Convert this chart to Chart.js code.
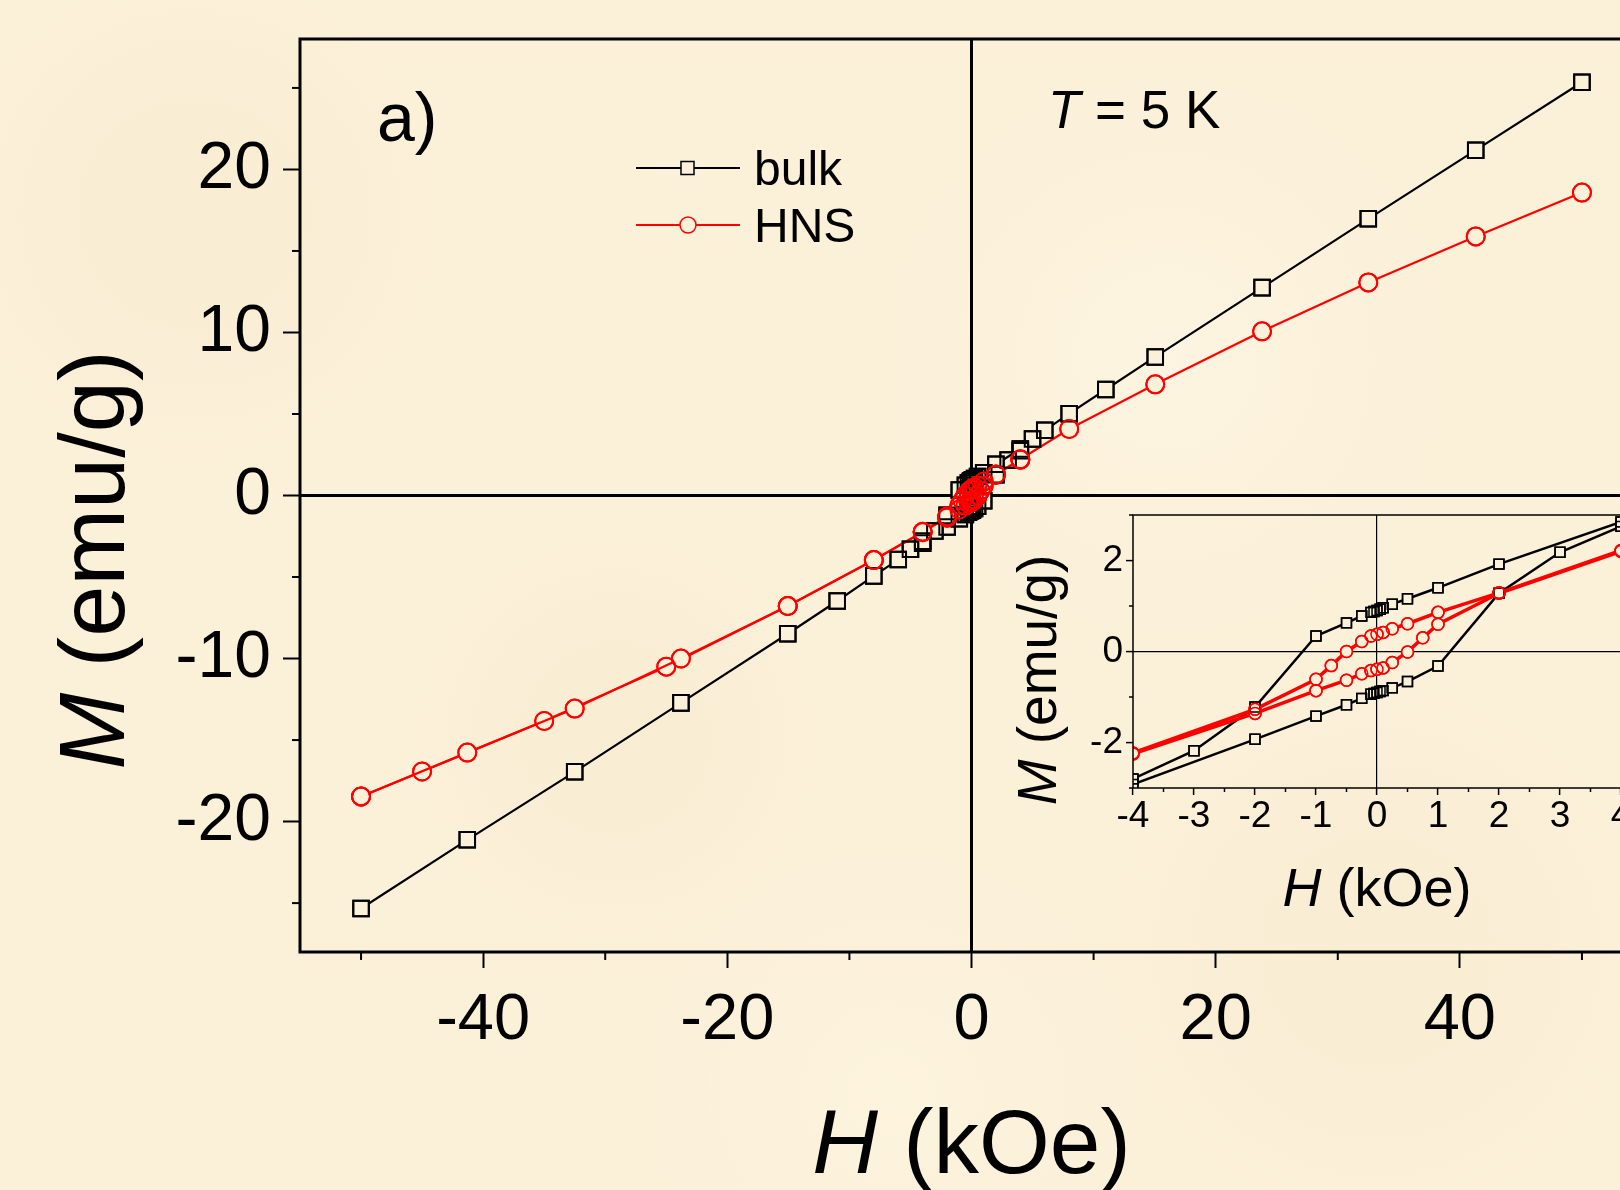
<!DOCTYPE html>
<html>
<head>
<meta charset="utf-8">
<title>M(H) bulk vs HNS</title>
<script src="https://cdn.jsdelivr.net/npm/chart.js@4.4.1/dist/chart.umd.min.js"></script>
<style>
  html, body { margin: 0; padding: 0; width: 1620px; height: 1190px; overflow: hidden; }
  body {
    position: relative;
    background-color: #fbf0d8;
    background-image:
      radial-gradient(circle at 12% 18%, rgba(242,229,196,0.3) 0, rgba(242,229,196,0) 14%),
      radial-gradient(circle at 38% 62%, rgba(242,229,196,0.3) 0, rgba(242,229,196,0) 16%),
      radial-gradient(circle at 72% 30%, rgba(255,249,234,0.5) 0, rgba(255,249,234,0) 20%),
      radial-gradient(circle at 85% 80%, rgba(241,227,194,0.25) 0, rgba(241,227,194,0) 16%),
      radial-gradient(circle at 55% 92%, rgba(255,248,230,0.45) 0, rgba(255,248,230,0) 18%);
  }
  #mainChart { position: absolute; left: 0; top: 0; }
  #insetChart { position: absolute; left: 990px; top: 500px; }
</style>
</head>
<body>
<canvas id="mainChart" width="1700" height="1190"></canvas>
<canvas id="insetChart" width="680" height="440"></canvas>
<script>
const BG = '#fbf0d8';
const FONT = "'Liberation Sans', Arial, Helvetica, sans-serif";

// bulk, field swept down (+50 -> -50 kOe)
const bulkDownH = [50, 41.3, 32.5, 23.8, 15.05, 11, 8, 6, 5, 4, 2, 1, 0.5, 0.25, 0.1, 0.05, 0, -0.05, -0.1, -0.25, -0.5, -1, -2, -3, -4, -5, -6, -8, -11, -15.05, -23.8, -32.5, -41.3, -50];
const bulkDownM = [25.35, 21.18, 16.97, 12.75, 8.5, 6.5, 5.02, 4.0, 3.47, 2.85, 1.92, 1.40, 1.16, 1.04, 0.96, 0.93, 0.90, 0.88, 0.86, 0.78, 0.63, 0.34, -1.22, -2.18, -2.80, -3.3, -3.93, -4.93, -6.47, -8.48, -12.72, -16.95, -21.12, -25.33];
// bulk, field swept back up (-4 -> +4 kOe)
const bulkUpH = [-4, -2, -1, -0.5, -0.25, -0.1, -0.05, 0, 0.05, 0.1, 0.25, 0.5, 1, 2, 3, 4];
const bulkUpM = [-2.92, -1.93, -1.42, -1.17, -1.03, -0.94, -0.92, -0.90, -0.88, -0.86, -0.80, -0.66, -0.32, 1.28, 2.18, 2.75];

// HNS, field swept down
const hnsDownH = [50, 41.3, 32.5, 23.8, 15.05, 8, 4, 2, 1, 0.5, 0.25, 0.1, 0, -0.1, -0.25, -0.5, -0.75, -1, -2, -4, -8, -15.05, -23.8, -32.5, -41.3, -50];
const hnsDownM = [18.58, 15.89, 13.07, 10.07, 6.82, 4.08, 2.22, 1.29, 0.86, 0.61, 0.50, 0.42, 0.38, 0.34, 0.22, 0.0, -0.31, -0.61, -1.27, -2.23, -3.96, -6.78, -10.0, -13.07, -15.77, -18.46];
// HNS, field swept up
const hnsUpH = [-50, -45, -35, -25, -15.05, -8, -4, -2, -1, -0.5, -0.25, -0.1, 0, 0.1, 0.25, 0.5, 0.75, 1, 2, 4];
const hnsUpM = [-18.46, -16.93, -13.83, -10.5, -6.78, -3.96, -2.25, -1.36, -0.86, -0.63, -0.49, -0.42, -0.39, -0.36, -0.24, -0.01, 0.30, 0.60, 1.28, 2.20];

// tick labels / minor ticks
const mainXTicks = [-40, -20, 0, 20, 40];
const mainXMinor = [-50, -30, -10, 10, 30, 50];
const mainYTicks = [-20, -10, 0, 10, 20];
const mainYMinor = [-25, -15, -5, 5, 15, 25];
const insetXTicks = [-4, -3, -2, -1, 0, 1, 2, 3, 4];
const insetXMinor = [-3.5, -2.5, -1.5, -0.5, 0.5, 1.5, 2.5, 3.5];
const insetYTicks = [-2, 0, 2];
const insetYMinor = [-3, -1, 1, 3];

function pts(h, m) {
    return h.map((v, i) => ({ x: v, y: m[i] }));
}

function drawRich(ctx, parts, x, y, size, align) {
    const widths = parts.map(([t, it]) => {
        ctx.font = (it ? 'italic ' : '') + size + 'px ' + FONT;
        return ctx.measureText(t).width;
    });
    const total = widths.reduce((a, b) => a + b, 0);
    let cx = align === 'center' ? x - total / 2 : x;
    ctx.textAlign = 'left';
    ctx.textBaseline = 'alphabetic';
    ctx.fillStyle = '#000';
    parts.forEach(([t, it], i) => {
        ctx.font = (it ? 'italic ' : '') + size + 'px ' + FONT;
        ctx.fillText(t, cx, y);
        cx += widths[i];
    });
}

// frame + minor tick marks
const framePlugin = {
    id: 'frame',
    afterDraw(chart, args, opts) {
        const { ctx, chartArea: a, scales } = chart;
        ctx.save();
        ctx.strokeStyle = '#000';
        ctx.lineWidth = opts.minorWidth;
        opts.xMinor.forEach(v => {
            const px = scales.x.getPixelForValue(v);
            ctx.beginPath();
            ctx.moveTo(px, a.bottom);
            ctx.lineTo(px, a.bottom + opts.minorLen);
            ctx.stroke();
        });
        opts.yMinor.forEach(v => {
            const py = scales.y.getPixelForValue(v);
            ctx.beginPath();
            ctx.moveTo(a.left - opts.minorLen, py);
            ctx.lineTo(a.left, py);
            ctx.stroke();
        });
        ctx.lineWidth = opts.frameWidth;
        ctx.strokeRect(a.left, a.top, a.right - a.left, a.bottom - a.top);
        ctx.restore();
    }
};

const mainTextPlugin = {
    id: 'mainText',
    afterDraw(chart) {
        const { ctx, chartArea: a } = chart;
        ctx.save();
        drawRich(ctx, [['H', true], [' (kOe)', false]], (a.left + a.right) / 2, 1173, 91, 'center');
        ctx.save();
        ctx.translate(124, 560);
        ctx.rotate(-Math.PI / 2);
        drawRich(ctx, [['M', true], [' (emu/g)', false]], 0, 0, 92, 'center');
        ctx.restore();
        drawRich(ctx, [['a)', false]], 377, 141, 68, 'left');
        drawRich(ctx, [['T', true], [' = 5 K', false]], 1048, 128, 53, 'left');

        // legend
        ctx.lineWidth = 2;
        ctx.strokeStyle = '#000';
        ctx.beginPath(); ctx.moveTo(636, 168); ctx.lineTo(740, 168); ctx.stroke();
        ctx.fillStyle = BG;
        ctx.fillRect(681, 161.5, 13, 13);
        ctx.lineWidth = 1.5;
        ctx.strokeRect(681, 161.5, 13, 13);
        ctx.strokeStyle = '#f00';
        ctx.lineWidth = 2;
        ctx.beginPath(); ctx.moveTo(636, 225); ctx.lineTo(740, 225); ctx.stroke();
        ctx.beginPath(); ctx.arc(688, 225, 8, 0, Math.PI * 2);
        ctx.fillStyle = BG; ctx.fill();
        ctx.lineWidth = 1.5; ctx.stroke();
        drawRich(ctx, [['bulk', false]], 754, 185, 48, 'left');
        drawRich(ctx, [['HNS', false]], 754, 242, 48, 'left');
        ctx.restore();
    }
};

const insetTextPlugin = {
    id: 'insetText',
    afterDraw(chart) {
        const { ctx, chartArea: a } = chart;
        ctx.save();
        drawRich(ctx, [['H', true], [' (kOe)', false]], (a.left + a.right) / 2, 406, 54, 'center');
        ctx.save();
        ctx.translate(66, 180);
        ctx.rotate(-Math.PI / 2);
        drawRich(ctx, [['M', true], [' (emu/g)', false]], 0, 0, 55, 'center');
        ctx.restore();
        ctx.restore();
    }
};

// lines + filled markers first, then hollow marker outlines on top
function makeDatasets(s) {
    const bulk = {
        borderColor: '#000', borderWidth: s.bw,
        pointStyle: 'rect', pointRadius: s.sq, pointBorderColor: '#000', pointBorderWidth: s.pw
    };
    const hns = {
        borderColor: '#f00', borderWidth: s.rw,
        pointStyle: 'circle', pointRadius: s.ci, pointBorderColor: '#f00', pointBorderWidth: s.pw
    };
    const series = [
        ['bulk', bulkDownH, bulkDownM, bulk, 4, 2],
        ['bulk up', bulkUpH, bulkUpM, bulk, 4, 2],
        ['HNS', hnsDownH, hnsDownM, hns, 3, 1],
        ['HNS up', hnsUpH, hnsUpM, hns, 3, 1]
    ];
    const out = [];
    series.forEach(([label, h, m, st, o1, o2]) => {
        out.push(Object.assign({ label, data: pts(h, m), showLine: true, pointBackgroundColor: BG, order: o1 }, st));
        out.push(Object.assign({ label: label + ' outline', data: pts(h, m), showLine: false,
                                 pointBackgroundColor: 'rgba(0,0,0,0)', order: o2 }, st));
    });
    return out;
}

function axis(cfg) {
    return {
        type: 'linear',
        min: cfg.min,
        max: cfg.max,
        afterFit: s => {
            cfg.fit(s);
            s.paddingTop = 0; s.paddingBottom = 0;
            s.paddingLeft = 0; s.paddingRight = 0;
        },
        afterBuildTicks: s => { s.ticks = cfg.ticks.map(v => ({ value: v })); },
        border: { display: false },
        grid: {
            color: c => (c.tick && c.tick.value === 0) ? '#000' : 'rgba(0,0,0,0)',
            lineWidth: cfg.zeroWidth,
            tickColor: '#000',
            tickWidth: cfg.tickWidth,
            tickLength: cfg.tickLen
        },
        ticks: {
            autoSkip: false,
            maxRotation: 0,
            padding: cfg.pad,
            color: '#000',
            font: { family: FONT, size: cfg.font }
        }
    };
}

new Chart(document.getElementById('mainChart'), {
    type: 'scatter',
    data: { datasets: makeDatasets({ bw: 2.2, rw: 2.2, sq: 11, ci: 9, pw: 2 }) },
    options: {
        responsive: false,
        animation: false,
        layout: { padding: { left: 0, top: 39, right: 57, bottom: 0 } },
        plugins: {
            legend: { display: false },
            tooltip: { enabled: false },
            frame: { xMinor: mainXMinor, yMinor: mainYMinor, minorLen: 8, minorWidth: 2, frameWidth: 3 }
        },
        scales: {
            x: axis({ min: -55, max: 55, ticks: mainXTicks, fit: s => { s.height = 238; },
                      zeroWidth: 3, tickWidth: 2, tickLen: 16, pad: 14, font: 65 }),
            y: axis({ min: -28, max: 28, ticks: mainYTicks, fit: s => { s.width = 300; },
                      zeroWidth: 3, tickWidth: 2, tickLen: 17, pad: 12, font: 66 })
        }
    },
    plugins: [framePlugin, mainTextPlugin]
});

new Chart(document.getElementById('insetChart'), {
    type: 'scatter',
    data: { datasets: makeDatasets({ bw: 2.5, rw: 3.5, sq: 7, ci: 6, pw: 1.5 }) },
    options: {
        responsive: false,
        animation: false,
        layout: { padding: { left: 0, top: 15, right: 49, bottom: 0 } },
        plugins: {
            legend: { display: false },
            tooltip: { enabled: false },
            frame: { xMinor: insetXMinor, yMinor: insetYMinor, minorLen: 4, minorWidth: 1.5, frameWidth: 1.5 }
        },
        scales: {
            x: axis({ min: -4, max: 4, ticks: insetXTicks, fit: s => { s.height = 152; },
                      zeroWidth: 1.2, tickWidth: 1.5, tickLen: 7, pad: 0, font: 37 }),
            y: axis({ min: -3, max: 3, ticks: insetYTicks, fit: s => { s.width = 143; },
                      zeroWidth: 1.2, tickWidth: 1.5, tickLen: 7, pad: 3, font: 37 })
        }
    },
    plugins: [framePlugin, insetTextPlugin]
});
</script>
</body>
</html>
